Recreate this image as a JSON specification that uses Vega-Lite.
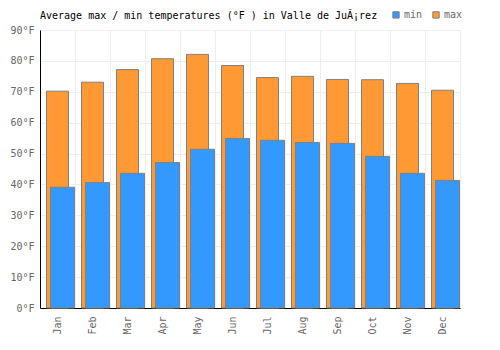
{
  "$schema": "https://vega.github.io/schema/vega-lite/v6.json",
  "width": 420,
  "height": 278,
  "autosize": {"type": "none"},
  "padding": {"left": 40, "top": 30, "right": 40, "bottom": 42},
  "background": "white",
  "title": {
    "text": "Average max / min temperatures (°F ) in Valle de JuÃ¡rez",
    "anchor": "start",
    "frame": "group",
    "font": "DejaVu Sans Mono",
    "fontSize": 10,
    "fontWeight": "normal",
    "color": "#000000",
    "baseline": "alphabetic",
    "offset": 0,
    "dy": 19.5
  },
  "data": {
    "values": [
      {"month": "Jan", "min": 39.1, "max": 70.2},
      {"month": "Feb", "min": 40.6, "max": 73.1},
      {"month": "Mar", "min": 43.6, "max": 77.2},
      {"month": "Apr", "min": 47.1, "max": 80.7},
      {"month": "May", "min": 51.4, "max": 82.1},
      {"month": "Jun", "min": 54.9, "max": 78.5},
      {"month": "Jul", "min": 54.3, "max": 74.6},
      {"month": "Aug", "min": 53.6, "max": 75.0},
      {"month": "Sep", "min": 53.3, "max": 74.0},
      {"month": "Oct", "min": 49.1, "max": 73.9},
      {"month": "Nov", "min": 43.6, "max": 72.7},
      {"month": "Dec", "min": 41.3, "max": 70.5}
    ]
  },
  "encoding": {
    "x": {
      "field": "month",
      "type": "ordinal",
      "sort": null,
      "scale": {"paddingInner": 0, "paddingOuter": 0},
      "axis": {
        "title": null,
        "labelAngle": -90,
        "labelPadding": 8,
        "tickBand": "extent",
        "grid": true,
        "ticks": false
      }
    }
  },
  "layer": [
    {
      "mark": {"type": "bar", "width": 22, "xOffset": 0, "stroke": "#808080", "strokeWidth": 1},
      "encoding": {
        "y": {
          "field": "max",
          "type": "quantitative",
          "scale": {"domain": [0, 90]},
          "axis": {"title": null, "values": [0,10,20,30,40,50,60,70,80,90], "labelOverlap": false, "labelExpr": "datum.value + '°F'", "labelPadding": 6, "ticks": false, "grid": true}
        },
        "color": {
          "datum": "max",
          "scale": {"domain": ["min", "max"], "range": ["#3399ff", "#ff9933"]},
          "legend": {
            "title": null,
            "orient": "none",
            "legendX": 351,
            "legendY": -20.5,
            "direction": "horizontal",
            "symbolType": "square",
            "symbolSize": 40,
            "symbolStrokeColor": "#808080",
            "symbolStrokeWidth": 1,
            "labelFont": "DejaVu Sans Mono",
            "labelFontSize": 10,
            "labelColor": "#666666",
            "labelOffset": 3,
            "columnPadding": 7
          }
        }
      }
    },
    {
      "mark": {"type": "bar", "width": 24, "xOffset": 5, "stroke": "#808080", "strokeWidth": 1},
      "encoding": {
        "y": {
          "field": "min",
          "type": "quantitative",
          "scale": {"domain": [0, 90]},
          "axis": {"title": null, "values": [0,10,20,30,40,50,60,70,80,90], "labelOverlap": false, "labelExpr": "datum.value + '°F'", "labelPadding": 6, "ticks": false, "grid": true}
        },
        "color": {"datum": "min"}
      }
    }
  ],
  "config": {
    "view": {"stroke": null},
    "axis": {
      "domainColor": "#000000",
      "domainWidth": 1,
      "gridColor": "#eeeeee",
      "labelFont": "DejaVu Sans Mono",
      "labelFontSize": 10,
      "labelColor": "#666666"
    }
  }
}
